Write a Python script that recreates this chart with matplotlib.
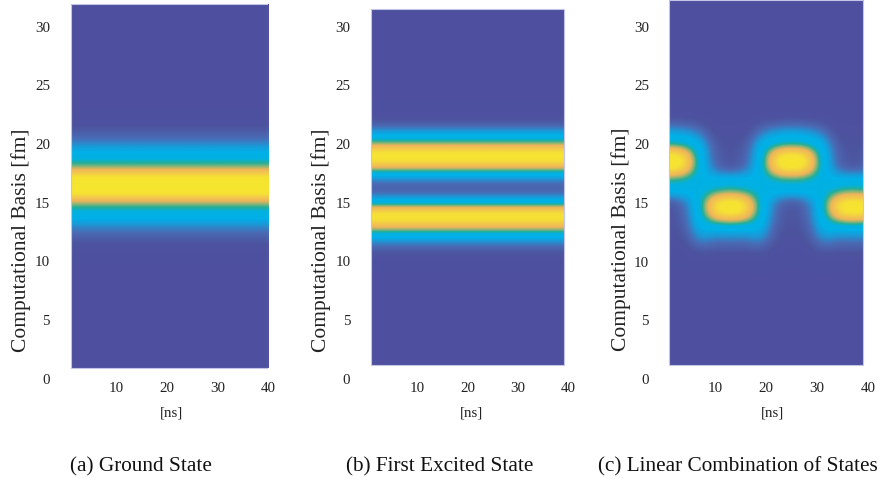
import numpy as np
import matplotlib
matplotlib.use("Agg")
import matplotlib.pyplot as plt
from matplotlib.colors import LinearSegmentedColormap
from matplotlib.patches import Rectangle

plt.rcParams["font.family"] = ["Liberation Serif", "DejaVu Serif"]

# ---------------------------------------------------------------- data
basis = list(range(1, 33))                     # computational basis [fm]

# probability density of the ground state along the basis (constant in time)
ground_density = [0, 0, 0, 0, 0, 0, 0, 0, 0, 0,
                  0.03, 0.11, 0.22, 0.40, 0.55, 0.93, 0.93, 0.55, 0.40, 0.22,
                  0.11, 0.03, 0, 0, 0, 0, 0, 0, 0, 0, 0, 0]

# probability density of the first excited state (constant in time)
excited_density = [0, 0, 0, 0, 0, 0, 0, 0, 0, 0.02,
                   0.10, 0.30, 0.68, 0.94, 0.40, 0.08, 0.20, 0.66, 0.95, 0.56,
                   0.26, 0.05, 0.01, 0, 0, 0, 0, 0, 0, 0, 0, 0]

# linear combination: density sampled every 3 ns on basis rows 9..24
combo_times = [1, 4, 7, 10, 13, 16, 19, 22, 25, 28, 31, 34, 37, 40]
combo_basis = list(range(9, 25))
combo_density = [
    [0.00, 0.01, 0.03, 0.05, 0.07, 0.06, 0.06, 0.38, 0.48, 0.92, 0.92, 0.48, 0.30, 0.09, 0.02, 0.00],
    [0.00, 0.01, 0.03, 0.06, 0.09, 0.13, 0.16, 0.38, 0.46, 0.84, 0.84, 0.46, 0.28, 0.08, 0.02, 0.00],
    [0.00, 0.03, 0.11, 0.28, 0.38, 0.42, 0.42, 0.40, 0.38, 0.40, 0.40, 0.36, 0.20, 0.06, 0.01, 0.00],
    [0.00, 0.02, 0.08, 0.20, 0.38, 0.78, 0.86, 0.48, 0.36, 0.15, 0.12, 0.08, 0.04, 0.02, 0.00, 0.00],
    [0.00, 0.02, 0.09, 0.22, 0.40, 0.86, 0.94, 0.52, 0.38, 0.06, 0.06, 0.07, 0.05, 0.03, 0.01, 0.00],
    [0.00, 0.02, 0.08, 0.20, 0.38, 0.78, 0.86, 0.48, 0.36, 0.15, 0.12, 0.08, 0.04, 0.02, 0.00, 0.00],
    [0.00, 0.03, 0.11, 0.28, 0.38, 0.42, 0.42, 0.40, 0.38, 0.40, 0.40, 0.36, 0.20, 0.06, 0.01, 0.00],
    [0.00, 0.01, 0.03, 0.06, 0.09, 0.13, 0.16, 0.38, 0.46, 0.84, 0.84, 0.46, 0.28, 0.08, 0.02, 0.00],
    [0.00, 0.01, 0.03, 0.05, 0.07, 0.06, 0.06, 0.38, 0.48, 0.92, 0.92, 0.48, 0.30, 0.09, 0.02, 0.00],
    [0.00, 0.01, 0.03, 0.06, 0.09, 0.13, 0.16, 0.38, 0.46, 0.84, 0.84, 0.46, 0.28, 0.08, 0.02, 0.00],
    [0.00, 0.03, 0.11, 0.28, 0.38, 0.42, 0.42, 0.40, 0.38, 0.40, 0.40, 0.36, 0.20, 0.06, 0.01, 0.00],
    [0.00, 0.02, 0.08, 0.20, 0.38, 0.78, 0.86, 0.48, 0.36, 0.15, 0.12, 0.08, 0.04, 0.02, 0.00, 0.00],
    [0.00, 0.02, 0.09, 0.22, 0.40, 0.86, 0.94, 0.52, 0.38, 0.06, 0.06, 0.07, 0.05, 0.03, 0.01, 0.00],
    [0.00, 0.02, 0.08, 0.20, 0.38, 0.78, 0.86, 0.48, 0.36, 0.15, 0.12, 0.08, 0.04, 0.02, 0.00, 0.00],
]

x_ticks = [10, 20, 30, 40]
y_ticks = [0, 5, 10, 15, 20, 25, 30]
captions = ["(a) Ground State", "(b) First Excited State",
            "(c) Linear Combination of States"]

# ---------------------------------------------------------------- style
cmap = LinearSegmentedColormap.from_list("density", [
    (0.00, "#4e4f9f"),
    (0.07, "#4d539f"),
    (0.16, "#4a6ab4"),
    (0.26, "#1a9ad8"),
    (0.34, "#00b0e8"),
    (0.44, "#03b1e0"),
    (0.50, "#25ae98"),
    (0.56, "#8ab476"),
    (0.63, "#eeb45a"),
    (0.74, "#f3cc48"),
    (0.82, "#f6e233"),
    (1.00, "#f7e92b"),
])

W, H = 880, 484
fig = plt.figure(figsize=(W / 100, H / 100), dpi=100)
TEXT = "#222222"


def px_axes(x0, x40, ytop=3, ybot=379):
    """Axes whose x=0..40 spans pixels x0..x40 and y spans ybot..ytop."""
    return fig.add_axes([x0 / W, (H - ybot) / H, (x40 - x0) / W, (ybot - ytop) / H])


def style_axes(ax, ymax, ylabel_x, xlabel_x, ytick_pad):
    ax.set_xlim(0, 40)
    ax.set_ylim(0, ymax)
    ax.set_xticks(x_ticks)
    ax.set_yticks(y_ticks)
    for s in ax.spines.values():
        s.set_visible(False)
    ax.tick_params(axis="both", length=0, labelsize=10.8, colors=TEXT)
    ax.tick_params(axis="x", pad=2.5)
    ax.tick_params(axis="y", pad=ytick_pad)
    ax.set_xlabel("[ns]", fontsize=10.8, color=TEXT)
    ax.set_ylabel("Computational Basis [fm]", fontsize=15.5, color=TEXT)
    ax.xaxis.set_label_coords(xlabel_x, -0.09)
    ax.xaxis.label.set_va("center")
    ax.yaxis.set_label_coords(ylabel_x, 0.37)
    ax.yaxis.label.set_va("center")
    ax.yaxis.label.set_ha("center")


def draw_density(ax, grid, xs_extent, img_box):
    x0, x1, y0, y1 = img_box
    im = ax.imshow(grid, origin="lower", aspect="auto", cmap=cmap, vmin=0, vmax=1,
                   extent=xs_extent, interpolation="bicubic",
                   interpolation_stage="data")
    clip = Rectangle((x0, y0), x1 - x0, y1 - y0, transform=ax.transData)
    im.set_clip_path(clip)
    ax.add_patch(Rectangle((x0, y0), x1 - x0, y1 - y0, fill=False,
                           edgecolor="#c3c5e6", lw=0.8, zorder=3))


# stationary states: density does not change with time
ground_grid = np.repeat(np.array(ground_density, float)[:, None], 2, axis=1)
excited_grid = np.repeat(np.array(excited_density, float)[:, None], 2, axis=1)
row_extent = (min(basis) - 0.5, max(basis) + 0.5)

ax_a = px_axes(66, 268)
draw_density(ax_a, ground_grid, (-1, 41, *row_extent), (0.9, 40.0, 0.95, 31.9))
style_axes(ax_a, 32, -0.223, 0.52, 11.5)

ax_b = px_axes(367, 568)
draw_density(ax_b, excited_grid, (-1, 41, *row_extent), (0.8, 39.2, 1.2, 31.5))
style_axes(ax_b, 32, -0.229, 0.52, 12.0)

# superposition: place the sampled rows into the full basis
combo_grid = np.zeros((len(basis), len(combo_times)))
rows = [basis.index(b) for b in combo_basis]
combo_grid[rows, :] = np.array(combo_density, float).T
step = combo_times[1] - combo_times[0]
ax_c = px_axes(664, 868, ytop=0.1)
draw_density(ax_c, combo_grid,
             (combo_times[0] - step / 2, combo_times[-1] + step / 2, *row_extent),
             (1.0, 39.1, 1.2, 32.25))
style_axes(ax_c, 32.25, -0.21, 0.53, 10.8)

# sub-figure captions
for x_px, text in zip([141, 440, 738], captions):
    fig.text(x_px / W, 1 - 467 / H, text, ha="center", va="center",
             fontsize=15.3, color="#111111")

fig.savefig("out.png", dpi=100)
